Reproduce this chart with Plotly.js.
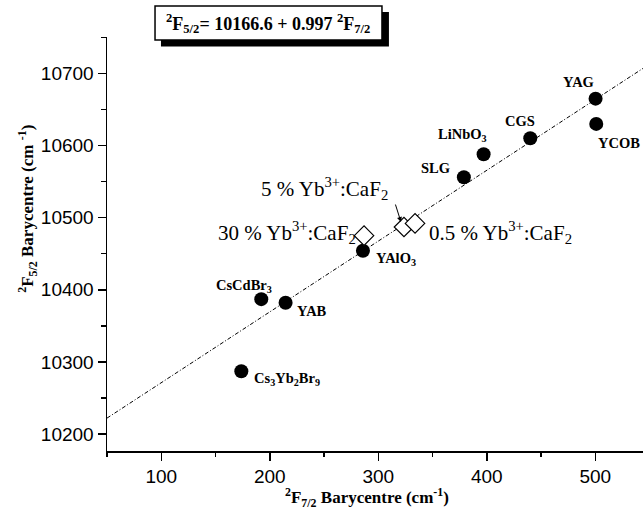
<!DOCTYPE html>
<html>
<head>
<meta charset="utf-8">
<script src="https://cdn.plot.ly/plotly-3.0.1.min.js"></script>
<style>html,body{margin:0;padding:0;background:#fff;}#chart{width:643px;height:513px;}</style>
</head>
<body>
<div id="chart"></div>
<script>
// ---- data ----
const crystalNames = ['YAG','YCOB','CGS','LiNbO<sub>3</sub>','SLG','YAlO<sub>3</sub>','CsCdBr<sub>3</sub>','YAB','Cs<sub>3</sub>Yb<sub>2</sub>Br<sub>9</sub>'];
const crystalF72 = [500.3, 500.9, 440.1, 397.1, 378.9, 285.9, 192.2, 214.6, 173.8];
const crystalF52 = [10665, 10630, 10610, 10588, 10556, 10454, 10387, 10382, 10287];

const cafNames = ['30 % Yb<sup>3+</sup>:CaF<sub>2</sub>','5 % Yb<sup>3+</sup>:CaF<sub>2</sub>','0.5 % Yb<sup>3+</sup>:CaF<sub>2</sub>'];
const cafF72 = [286.9, 323.7, 333.9];
const cafF52 = [10475, 10487, 10492];

const fitF72 = [50, 544];
const fitF52 = [10222, 10707];

const xTickVals = [100, 200, 300, 400, 500];
const xTickText = ['100', '200', '300', '400', '500'];
const yTickVals = [10200, 10300, 10400, 10500, 10600, 10700];
const yTickText = ['10200', '10300', '10400', '10500', '10600', '10700'];

// ---- styles (pixel offsets of labels) ----
const crystalLabelShift = [[-17,17],[23,-19],[-10,17],[-21,19],[-28,9],[33,-8],[-17,13],[26,-8],[46,-8]];
const cafLabelStyle = [
  {xanchor:'right', xshift:-6, yshift:3},
  {xanchor:'right', xshift:-14, yshift:39},
  {xanchor:'left', xshift:12, yshift:-9}
];

const serif = 'Liberation Serif, Times New Roman, serif';
const sans = 'Liberation Sans, Arial, sans-serif';

const traces = [
  {x: fitF72, y: fitF52, mode:'lines', line:{color:'#000', width:1, dash:'4px,2px,1px,2px'}, hoverinfo:'skip'},
  {x: crystalF72, y: crystalF52, mode:'markers', marker:{symbol:'circle', size:14, color:'#000'}},
  {x: cafF72, y: cafF52, mode:'markers', marker:{symbol:'diamond', size:15, color:'#fff', line:{color:'#000', width:1.2}}}
];

const annotations = [];
crystalNames.forEach((n,i)=>{
  annotations.push({x: crystalF72[i], y: crystalF52[i], xref:'x', yref:'y', text:'<b>'+n+'</b>', showarrow:false,
    xshift: crystalLabelShift[i][0], yshift: crystalLabelShift[i][1], font:{family:serif, size:14.5, color:'#000'}});
});
cafNames.forEach((n,i)=>{
  annotations.push(Object.assign({x: cafF72[i], y: cafF52[i], xref:'x', yref:'y', text:n, showarrow:false,
    yanchor:'middle', font:{family:serif, size:21, color:'#000'}}, cafLabelStyle[i]));
});
// arrow pointing to the 5 % sample
annotations.push({x: cafF72[1], y: cafF52[1], xref:'x', yref:'y', text:'', showarrow:true, arrowhead:2, arrowsize:1,
  arrowwidth:1, arrowcolor:'#000', axref:'pixel', ayref:'pixel', ax:-6, ay:-19, xshift:-3, yshift:5});
// equation box text
annotations.push({x:0.301, y:1.0338, xref:'paper', yref:'paper', xanchor:'center', yanchor:'middle', showarrow:false,
  text:'<b><sup>2</sup>F<sub>5/2</sub>= 10166.6 + 0.997 <sup>2</sup>F<sub>7/2</sub></b>', font:{family:serif, size:18, color:'#000'}});
// axis titles
annotations.push({x:-0.1474, y:0.585, xref:'paper', yref:'paper', textangle:-90, showarrow:false, xanchor:'center', yanchor:'middle',
  text:'<b><sup>2</sup>F<sub>5/2</sub> Barycentre (cm <sup>-1</sup>)</b>', font:{family:serif, size:17, color:'#000'}});
annotations.push({x:0.485, y:-0.113, xref:'paper', yref:'paper', showarrow:false, xanchor:'center', yanchor:'middle',
  text:'<b><sup>2</sup>F<sub>7/2</sub> Barycentre (cm<sup>-1</sup>)</b>', font:{family:serif, size:17, color:'#000'}});

const shapes = [
  {type:'rect', xref:'paper', yref:'paper', x0:0.1007, x1:0.526, y0:0.977, y1:1.0604, fillcolor:'#000', line:{width:0}},
  {type:'rect', xref:'paper', yref:'paper', x0:0.0896, x1:0.513, y0:0.9928, y1:1.0749, fillcolor:'#fff', line:{color:'#000', width:1.5}}
];

const layout = {
  width:643, height:513,
  margin:{l:107, r:0, t:37, b:62},
  paper_bgcolor:'#fff', plot_bgcolor:'#fff',
  showlegend:false,
  xaxis:{range:[50,544], tickmode:'array', tickvals:xTickVals, ticktext:xTickText, ticks:'outside', ticklen:8, tickwidth:1.5, tickcolor:'#000',
    showline:true, linecolor:'#000', linewidth:1.5, showgrid:false, zeroline:false, mirror:false,
    tickfont:{family:sans, size:19, color:'#000'},
    minor:{dtick:50, tick0:0, ticks:'outside', ticklen:4.5, tickwidth:1.5, tickcolor:'#000', showgrid:false}},
  yaxis:{range:[10176.4,10750.5], tickmode:'array', tickvals:yTickVals, ticktext:yTickText, ticks:'outside', ticklen:8, tickwidth:1.5, tickcolor:'#000',
    showline:true, linecolor:'#000', linewidth:1.5, showgrid:false, zeroline:false, mirror:false,
    tickfont:{family:sans, size:19, color:'#000'},
    minor:{dtick:50, tick0:0, ticks:'outside', ticklen:4.5, tickwidth:1.5, tickcolor:'#000', showgrid:false}},
  annotations: annotations,
  shapes: shapes
};

Plotly.newPlot('chart', traces, layout, {displayModeBar:false, staticPlot:true});
</script>
</body>
</html>
